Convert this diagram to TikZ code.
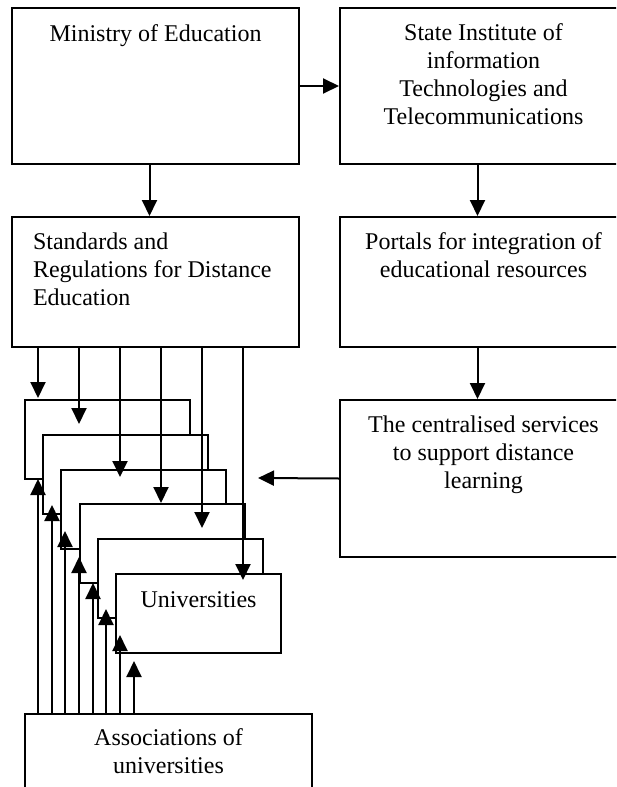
\documentclass[tikz,border=0pt]{standalone}
\usepackage{fontspec}
\setmainfont{Liberation Serif}
\usetikzlibrary{positioning,arrows.meta}

\begin{document}
\begin{tikzpicture}[x=1pt,y=-1pt,line width=2pt,
        box/.style={draw,fill=white,inner sep=0pt,anchor=north west},
        bigbox/.style={box,minimum width=287pt},
        unibox/.style={box,minimum width=165pt,minimum height=79pt},
        txt/.style={inner sep=0pt,align=center,font=\fontsize{24}{28}\selectfont},
        arr/.style={-{Triangle[length=16pt,width=15pt]}}]
        \useasboundingbox (0,0) rectangle (616,787);
        \clip (0,0) rectangle (616,787);
        \node[bigbox,minimum height=156pt] (ministry) at (11,7) {};
        \node[bigbox,minimum height=156pt] (state) at (339,7) {};
        \node[bigbox,minimum height=130pt] (stand) at (11,216) {};
        \node[bigbox,minimum height=130pt] (portal) at (339,216) {};
        \node[bigbox,minimum height=157pt] (cent) at (339,399) {};
        \node[bigbox,minimum height=120pt] (assoc) at (24,713) {};
        \foreach \i in {0,...,5}
            \node[unibox] (uni\i) at ({24+round(18.2*\i)},{399+round(34.8*\i)}) {};
        \node[txt,below=17pt of ministry.north] (ministrytxt) {Ministry of Education};
        \node[txt,below=16pt of state.north] (statetxt) {State Institute of\\information\\Technologies and\\Telecommunications};
        \node[txt,align=left,below right=16pt and 21pt of stand.north west] (standtxt) {Standards and\\Regulations for Distance\\Education};
        \node[txt,below=16pt of portal.north] (portaltxt) {Portals for integration of\\educational resources};
        \node[txt,below=16pt of cent.north] (centtxt) {The centralised services\\to support distance\\learning};
        \node[txt,below=18pt of uni5.north] (unitxt) {Universities};
        \node[txt,below=15pt of assoc.north] (assoctxt) {Associations of\\universities};
        \draw[arr] (ministry.east) -- (state.west);
        \draw[arr] ([xshift=-6pt]ministry.south) -- ([xshift=-6pt]stand.north);
        \draw[arr] ([xshift=-6pt]state.south) -- ([xshift=-6pt]portal.north);
        \draw[arr] ([xshift=-6pt]portal.south) -- ([xshift=-6pt]cent.north);
        \coordinate (centend) at (258,478);
        \draw[arr] (cent.west) -- (centend);
        \foreach \x/\y in {38/398,79/424,120/477,161/503,202/528,243/580}
            \draw[arr] (\x,0 |- stand.south) -- (\x,\y);
        \foreach \i [evaluate=\i as \x using 38+round(13.7*\i),
                     evaluate=\i as \y using 479+26*\i] in {0,...,7}
            \draw[arr] (\x,0 |- assoc.north) -- (\x,\y);
    \end{tikzpicture}
\end{document}
